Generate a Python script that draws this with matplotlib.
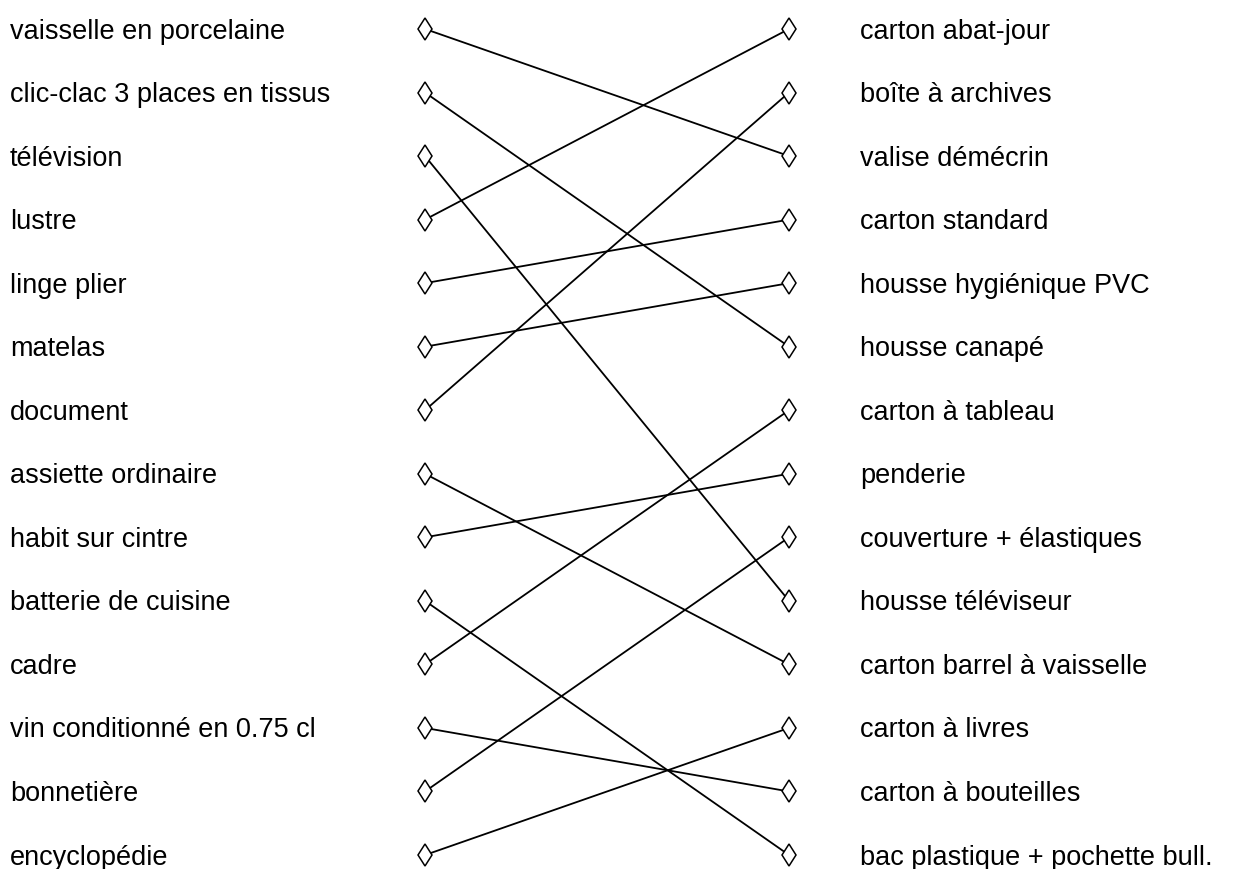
import matplotlib
matplotlib.use("Agg")
import matplotlib.pyplot as plt

plt.rcParams['font.family'] = ['Liberation Sans', 'DejaVu Sans']

# objets (colonne de gauche) et emballages (colonne de droite)
objets = ["vaisselle en porcelaine", "clic-clac 3 places en tissus", "télévision",
          "lustre", "linge plier", "matelas", "document", "assiette ordinaire",
          "habit sur cintre", "batterie de cuisine", "cadre",
          "vin conditionné en 0.75 cl", "bonnetière", "encyclopédie"]
emballages = ["carton abat-jour", "boîte à archives", "valise démécrin",
              "carton standard", "housse hygiénique PVC", "housse canapé",
              "carton à tableau", "penderie", "couverture + élastiques",
              "housse téléviseur", "carton barrel à vaisselle", "carton à livres",
              "carton à bouteilles", "bac plastique + pochette bull."]
# pour chaque objet, l'indice de l'emballage relié
liens = [2, 5, 9, 0, 3, 4, 1, 10, 7, 13, 6, 12, 8, 11]

fig = plt.figure(figsize=(12.5, 8.69), dpi=100)
ax = fig.add_axes([0, 0, 1, 1])
ax.set_xlim(-1.1676, 2.2665)
ax.set_ylim(13.22, -0.456)
ax.axis("off")

n = len(objets)
for i, j in enumerate(liens):
    ax.plot([0, 1], [i, j], color="black", lw=1.3, zorder=1)

ax.plot([0] * n, range(n), linestyle="none", marker="d", markersize=11.5,
        markerfacecolor="white", markeredgecolor="black", markeredgewidth=1.1, zorder=2)
ax.plot([1] * n, range(n), linestyle="none", marker="d", markersize=11.5,
        markerfacecolor="white", markeredgecolor="black", markeredgewidth=1.1, zorder=2)

for i, t in enumerate(objets):
    ax.text(-1.140, i + 0.04, t, fontsize=19.5, va="center", ha="left")
for i, t in enumerate(emballages):
    ax.text(1.195, i + 0.04, t, fontsize=19.5, va="center", ha="left")

fig.savefig("out.png", dpi=100)
